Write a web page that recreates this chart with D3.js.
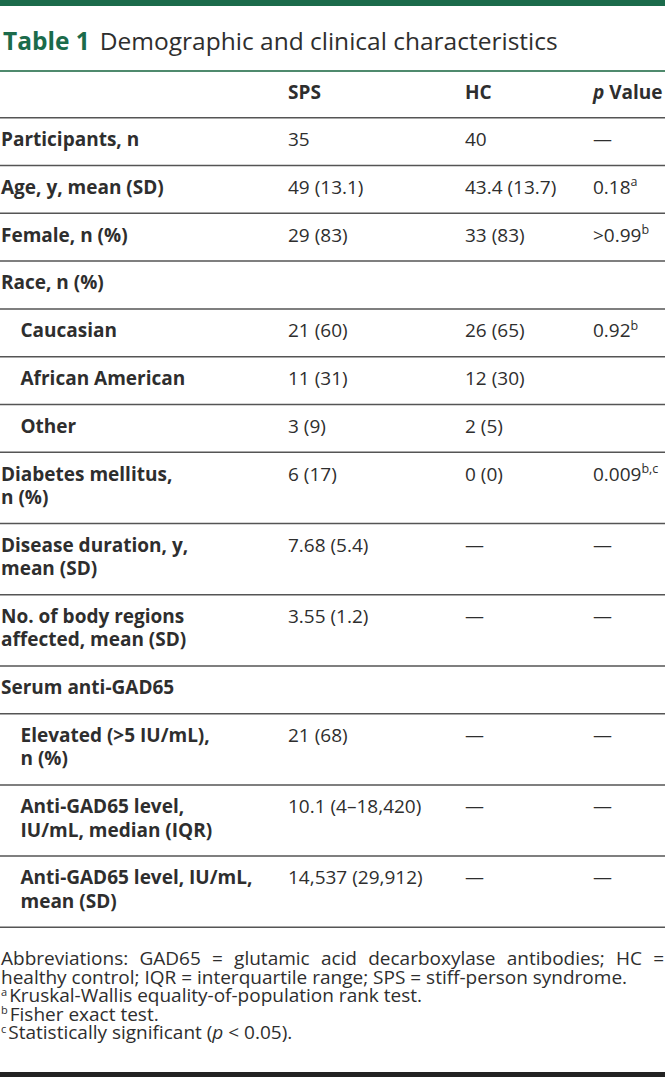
<!DOCTYPE html>
<html><head><meta charset="utf-8">
<script src="https://cdn.jsdelivr.net/npm/d3@7/dist/d3.min.js"></script>
<style>
html,body{margin:0;padding:0;background:#fff;}
svg{display:block;font-family:"Open Sans",sans-serif;}
</style></head>
<body><div id="chart"></div>
<script>
// ---- data ----
const columns = ["SPS", "HC", "Value"];
const rowLabels = [
  ["Participants, n"],
  ["Age, y, mean (SD)"],
  ["Female, n (%)"],
  ["Race, n (%)"],
  ["Caucasian"],
  ["African American"],
  ["Other"],
  ["Diabetes mellitus,", "n (%)"],
  ["Disease duration, y,", "mean (SD)"],
  ["No. of body regions", "affected, mean (SD)"],
  ["Serum anti-GAD65"],
  ["Elevated (>5 IU/mL),", "n (%)"],
  ["Anti-GAD65 level,", "IU/mL, median (IQR)"],
  ["Anti-GAD65 level, IU/mL,", "mean (SD)"]
];
const rowIndent = [0,0,0,0,1,1,1,0,0,0,0,1,1,1];
const spsValues = ["35","49 (13.1)","29 (83)","","21 (60)","11 (31)","3 (9)","6 (17)","7.68 (5.4)","3.55 (1.2)","","21 (68)","10.1 (4–18,420)","14,537 (29,912)"];
const hcValues  = ["40","43.4 (13.7)","33 (83)","","26 (65)","12 (30)","2 (5)","0 (0)","—","—","","—","—","—"];
const pValues   = ["—","0.18",">0.99","","0.92","","","0.009","—","—","","—","—","—"];
const pSups     = ["","a","b","","b","","","b,c","","","","","",""];
const footnotes = [
  {sup:"", text:"Abbreviations: GAD65 = glutamic acid decarboxylase antibodies; HC =", justify:true},
  {sup:"", text:"healthy control; IQR = interquartile range; SPS = stiff-person syndrome."},
  {sup:"a", text:"Kruskal-Wallis equality-of-population rank test."},
  {sup:"b", text:"Fisher exact test."},
  {sup:"c", text:"Statistically significant (", italic:"p", after:" < 0.05)."}
];

// ---- layout ----
const W = 665, H = 1077;
const green = "#1b6b4b", ink = "#2e2e2e", rule = "#555";
const svg = d3.select("#chart").append("svg").attr("width", W).attr("height", H);

svg.append("rect").attr("x",0).attr("y",0).attr("width",W).attr("height",6).attr("fill",green);

const title = svg.append("text").attr("x",3).attr("y",50).attr("font-size",24.5).attr("fill",ink);
title.append("tspan").attr("font-weight",700).attr("fill",green).text("Table 1");
title.append("tspan").attr("dx",10).text("Demographic and clinical characteristics");

svg.append("rect").attr("x",0).attr("y",70).attr("width",W).attr("height",2).attr("fill","#4f8a6d");

// column positions
const x = d3.scaleOrdinal().domain(["label", ...columns]).range([1, 288, 465, 593]);
const fs = 19;

// header
const hy = 99;
[["SPS","SPS"],["HC","HC"]].forEach(([k,t]) => {
  svg.append("text").attr("x",x(k)).attr("y",hy).attr("font-size",fs).attr("font-weight",700).attr("fill",ink).text(t);
});
const pv = svg.append("text").attr("x",x("Value")).attr("y",hy).attr("font-size",fs).attr("font-weight",700).attr("fill",ink);
pv.append("tspan").attr("font-style","italic").text("p");
pv.append("tspan").text(" Value");

// rows: heights from number of label lines
const lineH = 23.4, pad = 24.4;
const tops = [];
let acc = 0;
rowLabels.forEach(l => { tops.push(acc); acc += pad + lineH * l.length; });
const y = d3.scaleLinear().domain([0, acc]).range([117.7, 117.7 + acc]);

svg.append("line").attr("x1",0).attr("x2",W).attr("y1",y(0)).attr("y2",y(0)).attr("stroke",rule).attr("stroke-width",1.6);

rowLabels.forEach((lines, i) => {
  const top = y(tops[i]);
  const base = top + 28.3;
  const t = svg.append("text").attr("font-size",fs).attr("font-weight",700).attr("fill",ink);
  lines.forEach((ln, j) => {
    t.append("tspan").attr("x", x("label") + rowIndent[i]*19.5).attr("y", base + j*lineH).text(ln);
  });
  svg.append("text").attr("x",x("SPS")).attr("y",base).attr("font-size",fs).attr("fill",ink).text(spsValues[i]);
  svg.append("text").attr("x",x("HC")).attr("y",base).attr("font-size",fs).attr("fill",ink).text(hcValues[i]);
  const p = svg.append("text").attr("x",x("Value")).attr("y",base).attr("font-size",fs).attr("fill",ink);
  p.append("tspan").text(pValues[i]);
  if (pSups[i]) p.append("tspan").attr("dy",-7.5).attr("font-size",12.5).text(pSups[i]);
  const bottom = y(tops[i] + pad + lineH*lines.length);
  svg.append("line").attr("x1",0).attr("x2",W).attr("y1",bottom).attr("y2",bottom)
    .attr("stroke",rule).attr("stroke-width",1.5);
});

// footnotes
const fy0 = 965, fstep = 18.6, ffs = 19;
footnotes.forEach((f, i) => {
  const t = svg.append("text").attr("x",1).attr("y",fy0 + i*fstep).attr("font-size",ffs).attr("fill",ink);
  if (f.sup) {
    t.append("tspan").attr("dy",-6.5).attr("font-size",11).text(f.sup);
    t.append("tspan").attr("dy",6.5).attr("dx",2).text(f.text);
  } else {
    t.append("tspan").text(f.text);
  }
  if (f.italic) {
    t.append("tspan").attr("font-style","italic").text(f.italic);
    t.append("tspan").text(f.after);
  }
  if (f.justify) {
    const natural = t.node().getComputedTextLength();
    const spaces = (f.text.match(/ /g) || []).length;
    const extra = (W - 2 - natural) / spaces;
    if (extra > 0) t.attr("word-spacing", extra);
  }
});

svg.append("rect").attr("x",0).attr("y",1072).attr("width",W).attr("height",5).attr("fill","#222");
</script>
</body></html>
